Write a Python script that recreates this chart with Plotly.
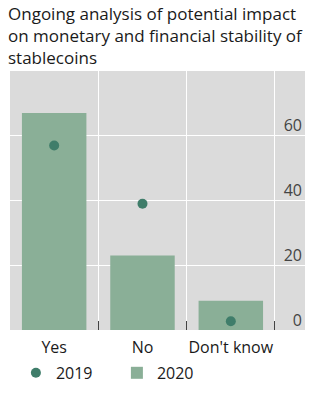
import plotly.graph_objects as go

categories = ["Yes", "No", "Don't know"]
values_2019 = [57, 39, 2.7]
values_2020 = [67, 23, 9]
y_ticks = [0, 20, 40, 60]

BAR = "#8aaf97"
DOT = "#3f7d6a"
BG = "#dbdbdb"
FONT = "Open Sans"

fig = go.Figure()
fig.add_trace(go.Bar(
    x=categories, y=values_2020, name="2020",
    marker=dict(color=BAR, line=dict(width=0)),
    width=0.73, legendrank=2,
))
fig.add_trace(go.Scatter(
    x=categories, y=values_2019, name="2019", mode="markers",
    marker=dict(color=DOT, size=10), legendrank=1,
))

fig.update_layout(
    width=322, height=401,
    margin=dict(l=10, r=17, t=71, b=71),
    paper_bgcolor="white", plot_bgcolor=BG,
    font=dict(family=FONT, size=16, color="#1a1a1a"),
    showlegend=True,
    legend=dict(orientation="h", x=0.02, xanchor="left", y=-0.1, yanchor="top",
                font=dict(size=16), itemwidth=30, tracegroupgap=0,
                entrywidth=56, entrywidthmode="pixels",
                bgcolor="rgba(0,0,0,0)"),
    xaxis=dict(
        type="category", range=[-0.5, 2.84], tickson="boundaries",
        showgrid=True, gridcolor="white", gridwidth=1,
        ticks="inside", ticklen=9, tickcolor="#444", tickwidth=1,
        showline=False, zeroline=False, tickangle=0,
        ticklabelstandoff=6, tickfont=dict(size=16),
    ),
    yaxis=dict(
        range=[0, 80], tickvals=y_ticks, side="right",
        ticklabelposition="inside", ticklabelshift=-10,
        ticklabeloverflow="allow",
        showgrid=True, gridcolor="white", gridwidth=1,
        zeroline=False, showline=False, ticks="",
        tickfont=dict(size=16),
    ),
    # short tick marks along the left edge
    yaxis2=dict(
        range=[0, 80], tickvals=y_ticks, side="left", overlaying="y",
        showgrid=False, zeroline=False, showline=False,
        ticks="outside", ticklen=2, tickcolor="#666", showticklabels=False,
    ),
    annotations=[dict(
        text="Ongoing analysis of potential impact<br>on monetary and financial stability of<br>stablecoins",
        xref="paper", yref="paper", x=-0.015, y=1.0, xanchor="left",
        yanchor="bottom", yshift=0, showarrow=False, align="left",
        font=dict(size=17, family=FONT, color="#1a1a1a"),
    )],
)

fig.write_html("out.html")
